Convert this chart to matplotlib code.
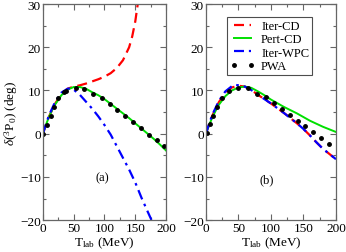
import matplotlib
matplotlib.use("Agg")
import matplotlib.pyplot as plt
from matplotlib.ticker import MultipleLocator

plt.rcParams.update({
    "font.family": "Liberation Serif",
    "mathtext.fontset": "custom",
    "mathtext.rm": "Liberation Serif",
    "mathtext.it": "Liberation Serif:italic",
    "font.size": 9.5,
})

# panel (a)
a_red_x = [0, 5, 10, 20, 30, 40, 50, 60, 70, 80, 90, 100, 110, 120, 130, 140, 145, 150, 155]
a_red_y = [0, 2.1, 4.0, 7.0, 9.1, 10.4, 10.9, 11.2, 11.6, 12.1, 12.6, 13.2, 14.0, 15.2, 17.0, 20.0, 22.5, 26.0, 31.0]
a_grn_x = [0, 5, 10, 15, 20, 30, 40, 50, 60, 70, 80, 90, 100, 110, 120, 130, 140, 150, 160, 170, 180, 190, 200]
a_grn_y = [0, 2.1, 3.9, 5.5, 6.8, 8.9, 10.2, 10.8, 10.8, 10.4, 9.6, 8.9, 8.0, 6.9, 5.8, 4.7, 3.6, 2.4, 1.2, 0.0, -1.2, -2.5, -3.9]
a_blu_x = [0, 5, 10, 20, 30, 40, 45, 50, 60, 70, 80, 90, 100, 110, 120, 130, 140, 150, 160, 170, 178]
a_blu_y = [0, 2.2, 4.3, 7.4, 9.5, 10.4, 10.5, 10.2, 9.0, 7.4, 5.8, 4.0, 2.0, -0.2, -2.9, -5.6, -8.3, -11.3, -14.8, -18.0, -20.5]
a_pwa_x = [0.5, 7, 12.5, 18, 25, 34, 38, 53, 67, 82, 96, 109, 121, 134, 147, 159, 172, 185, 197]
a_pwa_y = [0, 2.0, 4.1, 6.2, 8.2, 9.6, 9.9, 10.6, 10.3, 9.3, 8.2, 6.85, 5.5, 4.1, 2.8, 1.3, -0.2, -1.5, -2.8]

# panel (b)
b_red_x = [0, 5, 10, 20, 30, 40, 50, 60, 70, 80, 90, 100, 110, 120, 130, 140, 150, 160, 170, 180, 190, 200]
b_red_y = [0, 2.2, 4.2, 7.3, 9.5, 10.7, 11.1, 10.9, 10.1, 9.0, 8.0, 7.0, 5.9, 4.8, 3.6, 2.4, 1.1, -0.4, -2.0, -3.5, -4.7, -5.9]
b_grn_x = [0, 5, 10, 15, 20, 30, 40, 50, 60, 70, 80, 90, 100, 120, 140, 160, 180, 200]
b_grn_y = [0, 2.0, 3.8, 5.3, 6.7, 8.7, 10.0, 10.7, 10.9, 10.6, 9.8, 8.9, 7.9, 6.2, 4.7, 3.0, 1.6, 0.4]
b_blu_x = [0, 5, 10, 20, 30, 40, 45, 50, 60, 70, 80, 90, 100, 110, 120, 130, 140, 150, 160, 170, 180, 190, 200]
b_blu_y = [0, 2.3, 4.4, 7.6, 9.8, 11.0, 11.3, 11.2, 10.9, 10.1, 9.0, 8.0, 7.0, 5.9, 4.8, 3.6, 2.4, 1.1, -0.4, -2.0, -3.5, -4.7, -5.9]
b_pwa_x = [1, 6, 11, 17, 25, 35, 50, 65, 79, 92, 105, 117, 129, 141, 153, 165, 176.5, 189]
b_pwa_y = [0.1, 2.2, 4.1, 6.2, 8.2, 9.8, 10.6, 10.5, 9.3, 8.4, 7.1, 5.7, 4.4, 3.0, 1.7, 0.3, -1.1, -2.4]

fig = plt.figure(figsize=(3.46, 2.53), dpi=100)
ax_a = fig.add_axes([0.124, 0.126, 0.356, 0.854])
ax_b = fig.add_axes([0.595, 0.126, 0.376, 0.854])


def style(ax):
    ax.set_xlim(0, 200)
    ax.set_ylim(-20, 30)
    ax.xaxis.set_major_locator(MultipleLocator(50))
    ax.xaxis.set_minor_locator(MultipleLocator(25))
    ax.yaxis.set_major_locator(MultipleLocator(10))
    ax.yaxis.set_minor_locator(MultipleLocator(5))
    ax.tick_params(which="both", direction="in", top=True, right=True,
                   color="0.4", width=0.8, pad=1.5)
    ax.tick_params(which="major", length=4)
    ax.tick_params(which="minor", length=2)
    for s in ax.spines.values():
        s.set_color("0.4")
        s.set_linewidth(0.9)
    ax.set_xlabel(r"T$_{\rm lab}$ (MeV)", labelpad=0)


def draw(ax, rx, ry, gx, gy, bx, by, px, py):
    ax.plot(rx, ry, color="red", ls=(0, (4.5, 2.5)), lw=1.6, label="Iter-CD")
    ax.plot(gx, gy, color="#00e000", ls="-", lw=1.4, label="Pert-CD")
    ax.plot(bx, by, color="blue", ls=(0, (4.5, 2.2, 1.2, 2.2)), lw=1.6, label="Iter-WPC")
    ax.plot(px, py, ls="none", marker="o", ms=2.5, color="black", label="PWA")


draw(ax_a, a_red_x, a_red_y, a_grn_x, a_grn_y, a_blu_x, a_blu_y, a_pwa_x, a_pwa_y)
draw(ax_b, b_red_x, b_red_y, b_grn_x, b_grn_y, b_blu_x, b_blu_y, b_pwa_x, b_pwa_y)
style(ax_a)
style(ax_b)

ax_a.set_ylabel(r"$\delta(^{3}\mathrm{P}_{0})$ (deg)", labelpad=0)
ax_a.text(97, -10, "(a)", ha="center", va="center", fontsize=9)
ax_b.text(94, -10.5, "(b)", ha="center", va="center", fontsize=9)

leg = ax_b.legend(loc="upper left", bbox_to_anchor=(0.16, 0.94), fancybox=False,
                  edgecolor="0.3", framealpha=1, handlelength=2.0, numpoints=2,
                  handletextpad=0.5, borderpad=0.25, labelspacing=0.1,
                  borderaxespad=0, fontsize=9)
leg.get_frame().set_linewidth(0.8)

fig.savefig("out.png", dpi=100)
